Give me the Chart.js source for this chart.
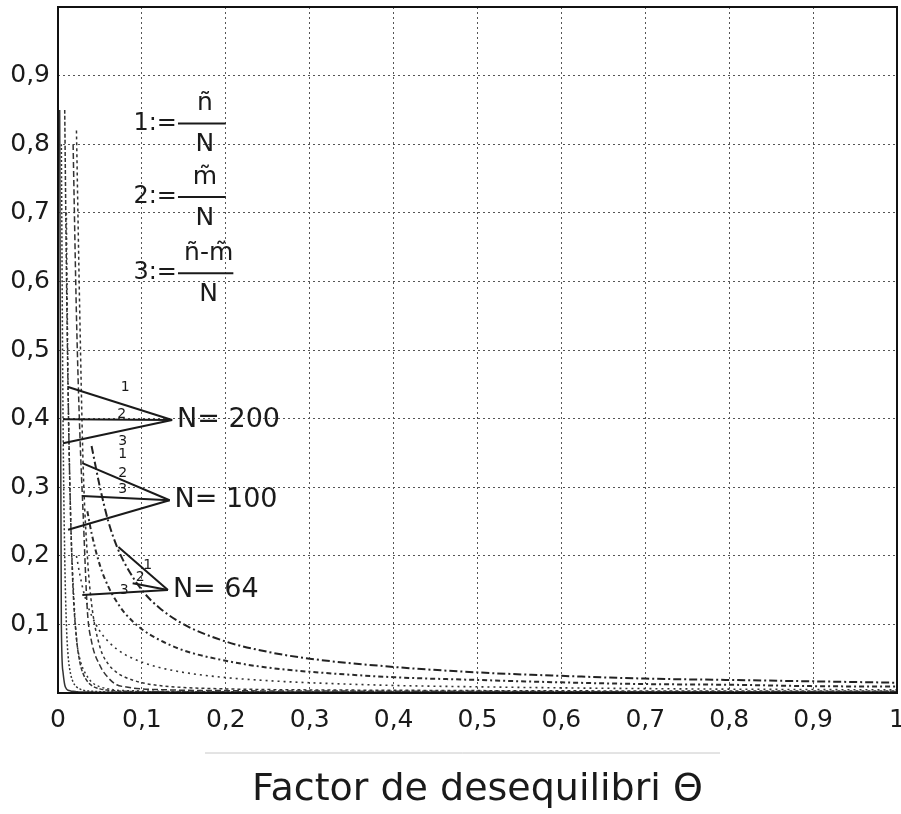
<!DOCTYPE html>
<html>
<head>
<meta charset="utf-8">
<script src="https://cdn.jsdelivr.net/npm/chart.js@4.4.1/dist/chart.umd.min.js"></script>
<style>
  html, body { margin: 0; padding: 0; background: #fff; }
  #wrap { width: 901px; height: 814px; }
</style>
</head>
<body>
<div id="wrap"><canvas id="chart" width="901" height="814"></canvas></div>
<script>
  // unbalance factor (shared x grid for every curve)
  const theta = [0.002, 0.004, 0.006, 0.008, 0.01, 0.012, 0.015, 0.018, 0.022, 0.026,
                 0.03, 0.035, 0.04, 0.05, 0.06, 0.07, 0.08, 0.1, 0.12, 0.15,
                 0.2, 0.25, 0.3, 0.4, 0.5, 0.6, 0.7, 0.8, 0.9, 1.0];

  // N = 64
  const n64_1 = [null, null, null, null, null, null, null, null, null, null, null, null,
                 0.36, 0.30, 0.25, 0.214, 0.188, 0.15, 0.125, 0.10,
                 0.075, 0.06, 0.05, 0.038, 0.030, 0.025, 0.021, 0.019, 0.017, 0.015];
  const n64_2 = [null, null, null, null, null, null, null, null, null, null, null,
                 0.265, 0.233, 0.186, 0.155, 0.133, 0.116, 0.093, 0.078, 0.062,
                 0.047, 0.037, 0.031, 0.023, 0.019, 0.0155, 0.013, 0.012, 0.010, 0.0093];
  const n64_3 = [null, null, null, null, null, null, null, null,
                 0.20, 0.173, 0.15, 0.129, 0.113, 0.09, 0.075, 0.064, 0.056, 0.045, 0.0375, 0.03,
                 0.0225, 0.018, 0.015, 0.011, 0.009, 0.0075, 0.0064, 0.0056, 0.005, 0.0045];

  // N = 100
  const n100_1 = [null, null, null, null, null, null, null, null,
                  0.82, 0.55, 0.33, 0.20, 0.13, 0.067, 0.042, 0.03, 0.023, 0.015, 0.011, 0.008,
                  0.006, 0.005, 0.0045, 0.004, 0.0035, 0.0032, 0.003, 0.003, 0.003, 0.003];
  const n100_2 = [null, null, null, null, null, null, null,
                  0.80, 0.55, 0.38, 0.26, 0.12, 0.075, 0.04, 0.022, 0.012, 0.009, 0.006, 0.005, 0.004,
                  0.0035, 0.003, 0.003, 0.0025, 0.0025, 0.002, 0.002, 0.002, 0.002, 0.002];
  const n100_3 = [null, null, null, null,
                  0.70, 0.45, 0.26, 0.16, 0.08, 0.05, 0.035, 0.024, 0.016, 0.009, 0.006, 0.004,
                  0.0035, 0.003, 0.0025, 0.002, 0.002, 0.0018, 0.0015, 0.0015, 0.0015, 0.0015,
                  0.0015, 0.0015, 0.0015, 0.0015];

  // N = 200
  const n200_1 = [null, null, null,
                  0.85, 0.62, 0.44, 0.26, 0.15, 0.08, 0.045, 0.028, 0.017, 0.011, 0.006, 0.004,
                  0.003, 0.0025, 0.002, 0.0018, 0.0015, 0.0013, 0.0012, 0.0011, 0.001, 0.001,
                  0.001, 0.001, 0.001, 0.001, 0.001];
  const n200_2 = [null,
                  0.80, 0.40, 0.20, 0.10, 0.055, 0.028, 0.016, 0.009, 0.006, 0.004, 0.003, 0.0025,
                  0.002, 0.0015, 0.0015, 0.0015, 0.0015, 0.0015, 0.0015, 0.0015, 0.001, 0.001,
                  0.001, 0.001, 0.001, 0.001, 0.001, 0.001, 0.001];
  const n200_3 = [0.85, 0.10, 0.03, 0.012, 0.006, 0.004, 0.003, 0.0025, 0.002, 0.0015,
                  0.0015, 0.0015, 0.0015, 0.001, 0.001, 0.001, 0.001, 0.001, 0.001, 0.001,
                  0.001, 0.001, 0.001, 0.001, 0.001, 0.001, 0.001, 0.001, 0.001, 0.001];

  const yTicks = [0.1, 0.2, 0.3, 0.4, 0.5, 0.6, 0.7, 0.8, 0.9];
  const xTicks = [0, 0.1, 0.2, 0.3, 0.4, 0.5, 0.6, 0.7, 0.8, 0.9, 1];

  // legend block: "k:=" numerator / N
  const defLabels = ['1:=', '2:=', '3:='];
  const defNumerators = ['ñ', 'm̃', 'ñ-m̃'];
  const defRows = [0.83, 0.723, 0.612];

  // "N = ..." callouts: tip of the three leader lines and where they land
  const groupLabels = ['N= 200', 'N= 100', 'N= 64'];
  const groupTips = [[0.136, 0.398], [0.133, 0.281], [0.131, 0.150]];
  const groupEnds = [
    [[0.012, 0.446], [0.006, 0.399], [0.006, 0.364]],
    [[0.029, 0.335], [0.029, 0.287], [0.012, 0.238]],
    [[0.072, 0.213], [0.089, 0.160], [0.029, 0.143]]
  ];
  const groupDigits = [
    [[0.080, 0.446], [0.076, 0.406], [0.077, 0.367]],
    [[0.077, 0.348], [0.077, 0.320], [0.077, 0.297]],
    [[0.107, 0.186], [0.098, 0.169], [0.079, 0.150]]
  ];

  const FONT = "'DejaVu Sans', sans-serif";
  const comma = v => String(Math.round(v * 10) / 10).replace('.', ',');

  function series(values) {
    const pts = [];
    values.forEach((v, i) => { if (v !== null) pts.push({ x: theta[i], y: v }); });
    return pts;
  }

  function curve(values, dash, width, color) {
    return {
      data: series(values),
      borderColor: color,
      borderWidth: width,
      borderDash: dash,
      pointRadius: 0,
      fill: false,
      cubicInterpolationMode: 'monotone'
    };
  }

  const annotations = {
    id: 'annotations',
    afterDraw(chart) {
      const { ctx, chartArea: a } = chart;
      const xs = chart.scales.x, ys = chart.scales.y;
      const px = v => xs.getPixelForValue(v);
      const py = v => ys.getPixelForValue(v);
      ctx.save();

      // frame
      ctx.strokeStyle = '#111';
      ctx.lineWidth = 2;
      ctx.strokeRect(a.left, a.top, a.right - a.left, a.bottom - a.top);

      ctx.fillStyle = '#1a1a1a';
      ctx.strokeStyle = '#1a1a1a';

      // definitions of curves 1, 2, 3
      const barStart = px(0.143);
      defLabels.forEach((lab, i) => {
        const y = py(defRows[i]);
        const barEnd = px(i === 2 ? 0.209 : 0.2);
        ctx.font = '24px ' + FONT;
        ctx.textAlign = 'right';
        ctx.textBaseline = 'middle';
        ctx.fillText(lab, barStart - 1, y);
        ctx.lineWidth = 2;
        ctx.beginPath();
        ctx.moveTo(barStart, y);
        ctx.lineTo(barEnd, y);
        ctx.stroke();
        ctx.textAlign = 'center';
        ctx.font = '25px ' + FONT;
        ctx.fillText(defNumerators[i], (barStart + barEnd) / 2 + 3, y - 20);
        ctx.fillText('N', (barStart + barEnd) / 2 + 3, y + 21);
      });

      // N callouts
      groupLabels.forEach((lab, g) => {
        const tx = px(groupTips[g][0]), ty = py(groupTips[g][1]);
        ctx.lineWidth = 2;
        groupEnds[g].forEach(e => {
          ctx.beginPath();
          ctx.moveTo(tx, ty);
          ctx.lineTo(px(e[0]), py(e[1]));
          ctx.stroke();
        });
        ctx.font = '14px ' + FONT;
        ctx.textAlign = 'center';
        ctx.textBaseline = 'middle';
        groupDigits[g].forEach((d, k) => ctx.fillText(String(k + 1), px(d[0]), py(d[1])));
        ctx.font = '27px ' + FONT;
        ctx.textAlign = 'left';
        ctx.fillText(lab, tx + 5, ty);
      });

      // faint rule under the tick labels
      ctx.strokeStyle = '#c8c8c8';
      ctx.lineWidth = 1;
      ctx.beginPath();
      ctx.moveTo(205, a.bottom + 60);
      ctx.lineTo(720, a.bottom + 60);
      ctx.stroke();

      // axis title
      ctx.fillStyle = '#1a1a1a';
      ctx.font = '38px ' + FONT;
      ctx.textAlign = 'center';
      ctx.textBaseline = 'middle';
      ctx.fillText('Factor de desequilibri Θ', (a.left + a.right) / 2, a.bottom + 97);
      ctx.restore();
    }
  };

  const gridColor = c => (c.tick && (c.tick.value <= 0 || c.tick.value >= 1)) ? 'rgba(0,0,0,0)' : '#555';

  new Chart(document.getElementById('chart'), {
    type: 'line',
    data: {
      datasets: [
        curve(n64_1, [8, 3, 2, 3], 2, '#222'),
        curve(n64_2, [5, 3, 2, 3], 2, '#2a2a2a'),
        curve(n64_3, [2, 4], 1.6, '#333'),
        curve(n100_1, [3, 3], 1.5, '#333'),
        curve(n100_2, [6, 3], 1.5, '#333'),
        curve(n100_3, [2, 3], 1.5, '#333'),
        curve(n200_1, [4, 2], 1.5, '#333'),
        curve(n200_2, [2, 2], 1.5, '#333'),
        curve(n200_3, [], 1.5, '#333')
      ]
    },
    options: {
      responsive: false,
      animation: false,
      layout: { padding: { top: 7, right: 4, left: 0, bottom: 0 } },
      plugins: { legend: { display: false }, tooltip: { enabled: false } },
      scales: {
        x: {
          type: 'linear',
          min: 0,
          max: 1,
          afterFit: s => { s.height = 121; s.paddingLeft = 0; s.paddingRight = 0; },
          afterBuildTicks: s => { s.ticks = xTicks.map(v => ({ value: v })); },
          grid: { color: gridColor, lineWidth: 1, drawTicks: false },
          border: { display: false, dash: [2, 3] },
          ticks: {
            padding: 12,
            maxRotation: 0,
            autoSkip: false,
            color: '#1a1a1a',
            font: { family: FONT, size: 25 },
            callback: v => comma(v)
          }
        },
        y: {
          type: 'linear',
          min: 0,
          max: 1,
          afterFit: s => { s.width = 58; s.paddingTop = 0; s.paddingBottom = 0; },
          afterBuildTicks: s => { s.ticks = yTicks.map(v => ({ value: v })); },
          grid: { color: gridColor, lineWidth: 1, drawTicks: false },
          border: { display: false, dash: [2, 3] },
          ticks: {
            padding: 8,
            color: '#1a1a1a',
            font: { family: FONT, size: 25 },
            callback: v => comma(v)
          }
        }
      }
    },
    plugins: [annotations]
  });
</script>
</body>
</html>
